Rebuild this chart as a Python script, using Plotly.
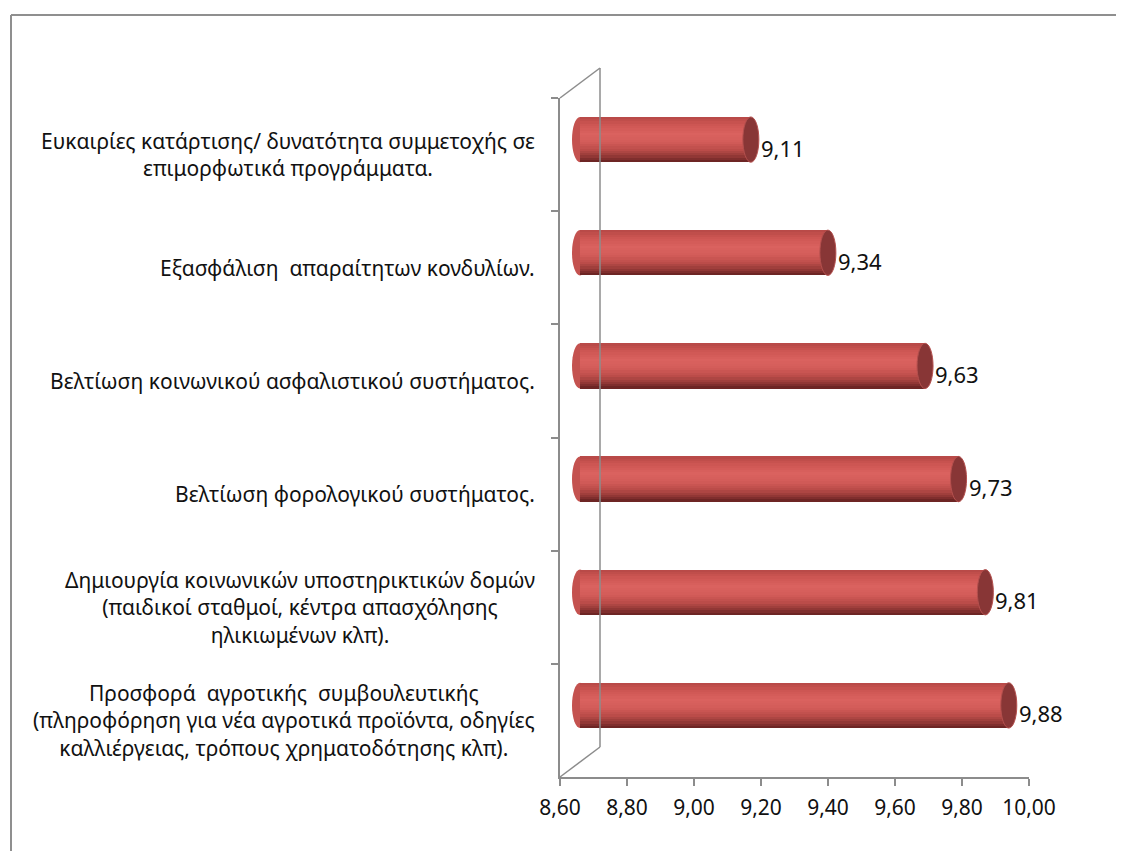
import plotly.graph_objects as go

# ---------------- data ----------------
categories = [
    "Ευκαιρίες κατάρτισης/ δυνατότητα συμμετοχής σε<br>επιμορφωτικά προγράμματα.",
    "Εξασφάλιση  απαραίτητων κονδυλίων.",
    "Βελτίωση κοινωνικού ασφαλιστικού συστήματος.",
    "Βελτίωση φορολογικού συστήματος.",
    "Δημιουργία κοινωνικών υποστηρικτικών δομών<br>(παιδικοί σταθμοί, κέντρα απασχόλησης<br>ηλικιωμένων κλπ).",
    "Προσφορά  αγροτικής  συμβουλευτικής<br>(πληροφόρηση για νέα αγροτικά προϊόντα, οδηγίες<br>καλλιέργειας, τρόπους χρηματοδότησης κλπ).",
]
values = [9.11, 9.34, 9.63, 9.73, 9.81, 9.88]
x_min, x_max, x_step = 8.60, 10.00, 0.20

# ---------------- geometry helpers ----------------
PAGE_OFF = 8                      # default body margin of the html page
W, H = 1124 - 2 * PAGE_OFF, 859 - 2 * PAGE_OFF
def px_x(p): return (p - PAGE_OFF) / W
def px_y(p): return 1 - (p - PAGE_OFF) / H

FONT = "Noto Sans"
AXIS_GRAY = "#8c8c8c"
TEXT = "#111111"

# front (ticks) plane
FX0, FX1 = 560, 1029
FY0, FY1 = 98, 777
# back plane offset
DX, DY = 40, -30
# bar plane (mid-depth)
scale = (FX1 - FX0) / (x_max - x_min)
bar_left_px = FX0 + DX / 2
pad_units = 0.06
BX0 = bar_left_px - pad_units * scale
BX1 = bar_left_px + (x_max - x_min) * scale
BY0 = FY0 + DY / 2
BY1 = FY1 + DY / 2

fig = go.Figure()

# invisible trace on the front axes so category ticks render
fig.add_trace(go.Scatter(x=values, y=categories, mode="markers",
                         marker=dict(opacity=0), hoverinfo="skip",
                         showlegend=False, xaxis="x", yaxis="y"))

# cylinder body as stacked colour bands
stops = [(0.0, (182, 72, 70)), (0.18, (206, 86, 83)), (0.38, (218, 98, 95)),
         (0.55, (211, 92, 89)), (0.72, (188, 77, 74)), (0.86, (150, 58, 56)),
         (1.0, (100, 32, 32))]
def interp(t):
    for (t0, c0), (t1, c1) in zip(stops[:-1], stops[1:]):
        if t0 <= t <= t1:
            f = (t - t0) / (t1 - t0)
            return "rgb(%d,%d,%d)" % tuple(round(a + (b - a) * f) for a, b in zip(c0, c1))
    return "rgb(%d,%d,%d)" % stops[-1][1]

thick = 0.40
N = 20
bw = thick / N
for k in range(N):
    fig.add_trace(go.Bar(
        x=[v - x_min for v in values], y=categories, base=x_min,
        orientation="h", width=bw * 1.6 if k < N - 1 else bw, offset=-thick / 2 + k * bw,
        marker=dict(color=interp((k + 0.5) / N), line=dict(width=0)),
        hoverinfo="skip", showlegend=False, xaxis="x2", yaxis="y2"))

shapes = []
# back wall (drawn over the bars, as in the reference) & connectors
shapes.append(dict(type="line", xref="paper", yref="paper",
                   x0=px_x(FX0 + DX), y0=px_y(FY0 + DY), x1=px_x(FX0 + DX), y1=px_y(FY1 + DY),
                   line=dict(color=AXIS_GRAY, width=1.5), layer="above"))
for (ax, ay, bx, by) in [(FX0, FY0, FX0 + DX, FY0 + DY),
                         (FX0, FY1, FX0 + DX, FY1 + DY)]:
    shapes.append(dict(type="line", xref="paper", yref="paper",
                       x0=px_x(ax), y0=px_y(ay), x1=px_x(bx), y1=px_y(by),
                       line=dict(color=AXIS_GRAY, width=1.5), layer="below"))
# outer border (left & top visible)
shapes.append(dict(type="line", xref="paper", yref="paper",
                   x0=px_x(11), y0=px_y(15), x1=1, y1=px_y(15),
                   line=dict(color="#8f8f8f", width=2), layer="below"))
shapes.append(dict(type="line", xref="paper", yref="paper",
                   x0=px_x(11), y0=px_y(15), x1=px_x(11), y1=0,
                   line=dict(color="#8f8f8f", width=2), layer="below"))

cap_half = 8 / scale
for i, v in enumerate(values):
    # left rounded end
    shapes.append(dict(type="circle", xref="x2", yref="y2",
                       x0=x_min - cap_half, x1=x_min + cap_half,
                       y0=i - thick / 2, y1=i + thick / 2,
                       fillcolor="rgb(196,82,79)", line=dict(width=0), layer="below"))
    # right end cap
    shapes.append(dict(type="circle", xref="x2", yref="y2",
                       x0=v - cap_half, x1=v + cap_half,
                       y0=i - thick / 2, y1=i + thick / 2,
                       fillcolor="rgb(136,54,54)",
                       line=dict(width=1, color="rgb(180,80,78)"), layer="above"))

annotations = []
for i, (c, v) in enumerate(zip(categories, values)):
    annotations.append(dict(x=px_x(537), xref="paper", y=c, yref="y",
                            text=c, showarrow=False, xanchor="right", yanchor="middle",
                            align="center", font=dict(family=FONT, size=21, color=TEXT)))
    annotations.append(dict(x=v, xref="x2", y=i, yref="y2",
                            text=("%.2f" % v).replace(".", ","), showarrow=False,
                            xanchor="left", yanchor="middle", xshift=8, yshift=-8,
                            font=dict(family=FONT, size=22, color=TEXT)))

ticks = [round(x_min + j * x_step, 2) for j in range(int(round((x_max - x_min) / x_step)) + 1)]

fig.update_layout(
    width=W, height=H, margin=dict(l=0, r=0, t=0, b=0, pad=0, autoexpand=False),
    paper_bgcolor="white", plot_bgcolor="rgba(0,0,0,0)",
    barmode="overlay", separators=",.", bargap=0, showlegend=False,
    xaxis=dict(domain=[px_x(FX0), px_x(FX1)], range=[x_min, x_max],
               tickvals=ticks, tickformat=".2f", ticks="outside", ticklen=7,
               tickcolor=AXIS_GRAY, tickwidth=1.5, showline=True, linecolor=AXIS_GRAY,
               linewidth=1.5, showgrid=False, zeroline=False, anchor="y",
               automargin=False, ticklabelstandoff=4,
               tickfont=dict(family=FONT, size=21, color=TEXT)),
    yaxis=dict(domain=[px_y(FY1), px_y(FY0)], type="category",
               categoryarray=categories, categoryorder="array",
               range=[len(categories) - 0.5, -0.5], tickson="boundaries",
               ticks="outside", ticklen=7, tickcolor=AXIS_GRAY, tickwidth=1.5,
               showline=True, linecolor=AXIS_GRAY, linewidth=1.5, automargin=False,
               showgrid=False, showticklabels=False, anchor="x"),
    xaxis2=dict(domain=[px_x(BX0), px_x(BX1)], range=[x_min - pad_units, x_max],
                visible=False, anchor="y2", automargin=False),
    yaxis2=dict(domain=[px_y(BY1), px_y(BY0)], type="category",
                categoryarray=categories, categoryorder="array",
                range=[len(categories) - 0.5, -0.5], visible=False, anchor="x2",
                automargin=False),
    shapes=shapes, annotations=annotations,
)

fig.write_html("out.html")
